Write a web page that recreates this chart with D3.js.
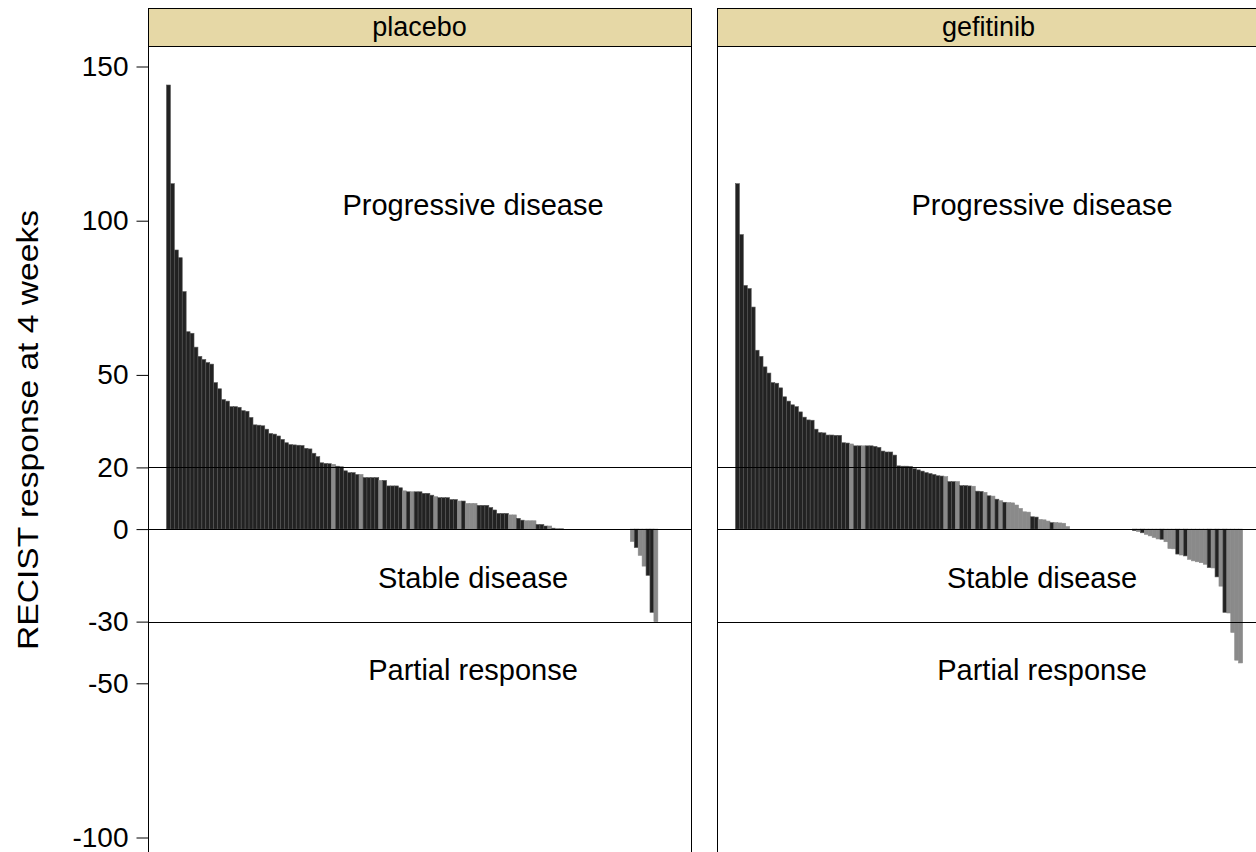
<!DOCTYPE html>
<html><head><meta charset="utf-8">
<script src="https://cdn.jsdelivr.net/npm/d3@7"></script>
<style>body{margin:0;background:#fff;} text{font-family:"Liberation Sans",Arial,sans-serif;fill:#000;}</style>
</head><body><svg id="chart" width="1256" height="852"></svg>
<script>
const panels = ["placebo", "gefitinib"];
const yTicks = [150, 100, 50, 20, 0, -30, -50, -100];
const refLines = [20, 0, -30];
const regionLabels = ["Progressive disease", "Stable disease", "Partial response"];
const regionLabelY = [102, -19, -49];
const yTitle = "RECIST response at 4 weeks";

const placeboValues = [144,112,90.5,88,77,64,63.5,59,56,55,
  54,53.5,47.5,45.5,42,41.5,39.7,39.7,39.5,38.4,
  38.2,36.2,33.8,33.7,33.5,32.4,31,30.8,30.2,29.1,
  28,27.4,27.3,27.2,27.1,26.2,26,24.6,23.5,21.5,
  21.3,21.2,21,20.4,20.2,18.9,18.3,18.3,17.7,17.7,
  16.7,16.7,16.7,16.7,15.8,15.8,14,14,14,13.4,
  12.4,12.1,12.1,12.1,12.1,11.6,11.6,11,10.5,10.2,
  10.2,10.2,9.6,9.6,9.1,9.1,8.3,8.3,8.3,7.7,
  7.7,7.7,7,6.2,5.1,5.1,5.1,4.6,4.6,3.5,
  2.9,2.7,2.7,2.7,1.5,1.5,1,1,0.3,0.2,
  0.2,0,0,0,0,0,0,0,0,0,
  0,0,0,0,0,0,0,0,-4,-6,
  -8.5,-12,-15,-27,-30];
const placeboGroup = [0,0,0,0,0,0,0,0,0,0,
  0,0,0,0,0,0,0,0,0,0,
  0,0,0,0,0,0,0,0,0,0,
  0,0,0,0,0,0,0,0,0,0,
  0,0,1,0,0,0,0,0,0,1,
  0,0,0,0,1,0,0,0,0,0,
  1,0,1,0,0,0,0,0,1,0,
  0,0,0,0,1,0,1,1,1,0,
  0,0,0,0,0,0,0,1,1,0,
  0,1,1,1,0,0,0,1,0,1,
  1,0,0,0,0,0,0,0,0,0,
  0,0,0,0,0,0,0,0,1,0,
  1,1,0,0,1];

const gefitinibValues = [112,95.5,79,78,72,58,56,52.6,50.6,47.5,
  47.3,45.8,42.9,41.5,40.3,39.7,38,36.3,35.4,35.3,
  32.4,31.3,31.2,30.5,30.5,30.4,30.4,28,27.9,27.6,
  27,27,27,27,27,26.8,26.5,25.3,25,25,
  24,20.5,20.4,20.4,20.3,19.6,19.2,18.8,18.3,18,
  17.7,17.3,17.2,17,15.4,15.4,15.4,14.1,14.1,14,
  13.9,12.3,12.2,11.9,10.8,10.7,9.7,9.2,8.7,8.6,
  8.5,7.8,6.7,5.6,5.5,4,3.9,3.1,3,2.6,
  2.1,2.1,2,1.9,0.8,0,0,0,0,0,
  0,0,0,0,0,0,0,0,0,0,
  0,-0.5,-0.8,-1.2,-1.7,-2.2,-2.7,-3.2,-3.3,-4.1,
  -6.3,-6.4,-8.1,-8.4,-8.7,-9.8,-10.3,-10.6,-10.9,-11.4,
  -12.5,-12.6,-15.5,-18.5,-27,-27.2,-33.5,-42.5,-43.4];
const gefitinibGroup = [0,0,0,0,0,0,0,0,0,0,
  0,0,0,0,0,0,0,0,0,0,
  0,0,0,0,0,0,0,0,0,1,
  0,0,1,0,0,0,0,0,0,0,
  0,0,0,0,0,0,0,0,0,0,
  0,0,0,1,0,0,1,0,0,0,
  1,0,0,1,0,1,0,1,0,1,
  1,1,1,1,1,0,0,1,1,1,
  0,1,1,1,1,0,0,0,0,0,
  0,0,0,0,0,0,0,0,0,0,
  0,0,1,0,1,1,1,1,0,1,
  1,1,0,1,0,1,1,1,1,1,
  0,1,0,1,0,1,1,1,1];

const panelData = [
  {name: panels[0], values: placeboValues, groups: placeboGroup},
  {name: panels[1], values: gefitinibValues, groups: gefitinibGroup}
];

const svg = d3.select("#chart");
const panelLeft = [148, 717];
const panelWidth = 543;
const stripTop = 8, stripBottom = 46, plotBottom = 880;
const nSlots = 130;
const fills = ["#222222", "#8a8a8a"];
const strokes = ["#555555", "#8a8a8a"];

const y = d3.scaleLinear().domain([-100, 150]).range([837.5, 66.5]);

panelData.forEach((p, pi) => {
  const x0 = panelLeft[pi];
  const g = svg.append("g");
  const x = d3.scaleBand().domain(d3.range(nSlots)).range([x0 + 18.5, x0 + 18.5 + 511]).padding(0);

  g.append("rect").attr("x", x0 + 0.5).attr("y", stripBottom + 0.5)
    .attr("width", panelWidth).attr("height", plotBottom - stripBottom)
    .attr("fill", "#fff").attr("stroke", "#000").attr("stroke-width", 1);

  g.append("g").selectAll("rect").data(p.values.map((v, i) => ({v, i, grp: p.groups[i]})))
    .join("rect")
    .attr("x", d => x(d.i))
    .attr("width", x.bandwidth())
    .attr("y", d => Math.min(y(d.v), y(0)))
    .attr("height", d => Math.abs(y(d.v) - y(0)))
    .attr("fill", d => fills[d.grp])
    .attr("stroke", d => d.v === 0 ? "none" : strokes[d.grp])
    .attr("stroke-width", 0.6);

  g.append("g").selectAll("line").data(refLines).join("line")
    .attr("x1", x0).attr("x2", x0 + panelWidth)
    .attr("y1", d => Math.round(y(d)) + 0.5).attr("y2", d => Math.round(y(d)) + 0.5)
    .attr("stroke", "#000").attr("stroke-width", 1);

  g.append("g").selectAll("text").data(regionLabels).join("text")
    .attr("x", x0 + 325).attr("y", (d, i) => y(regionLabelY[i]))
    .attr("text-anchor", "middle").attr("font-size", 29).text(d => d);

  g.append("rect").attr("x", x0 + 0.5).attr("y", stripTop + 0.5)
    .attr("width", panelWidth).attr("height", stripBottom - stripTop)
    .attr("fill", "#e6d8a6").attr("stroke", "#000").attr("stroke-width", 1);
  g.append("text").attr("x", x0 + panelWidth / 2).attr("y", stripBottom - 10)
    .attr("text-anchor", "middle").attr("font-size", 27).text(p.name);
});

const axis = d3.axisLeft(y).tickValues(yTicks).tickSize(12).tickPadding(8).tickFormat(d => String(d));
const ax = svg.append("g").attr("transform", "translate(148.5,0)").call(axis);
ax.select(".domain").remove();
ax.selectAll(".tick line").attr("stroke", "#000");
ax.selectAll(".tick text").attr("font-size", 28).attr("font-family", "'Liberation Sans',Arial,sans-serif").attr("fill", "#000");

svg.append("text").attr("transform", "translate(38,430) rotate(-90)")
  .attr("text-anchor", "middle").attr("font-size", 29)
  .attr("textLength", 440).attr("lengthAdjust", "spacingAndGlyphs").text(yTitle);
</script></body></html>
